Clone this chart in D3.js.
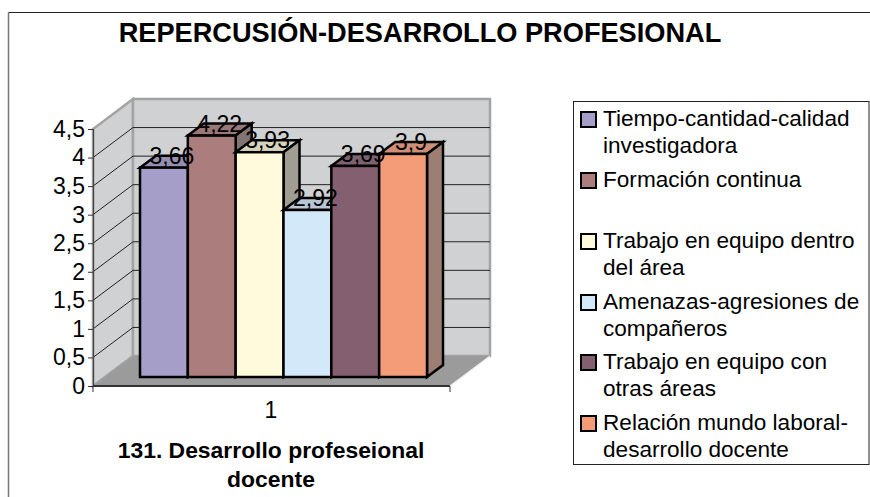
<!DOCTYPE html>
<html><head><meta charset="utf-8">
<script src="https://cdn.jsdelivr.net/npm/d3@7/dist/d3.min.js"></script>
<style>html,body{margin:0;padding:0;background:#fff}svg{display:block}text{font-family:"Liberation Sans",Arial,sans-serif;fill:#000}</style>
</head><body><svg id="c" width="870" height="497"></svg>
<script>
const chartTitle = "REPERCUSIÓN-DESARROLLO PROFESIONAL";
const legendLines = [["Tiempo-cantidad-calidad","investigadora"],["Formación continua"],["Trabajo en equipo dentro","del área"],["Amenazas-agresiones de","compañeros"],["Trabajo en equipo con","otras áreas"],["Relación mundo laboral-","desarrollo docente"]];
const legendSlotY = [119,180,241,302,362,423];
const values = [3.66,4.22,3.93,2.92,3.69,3.9];
const valueLabels = ["3,66","4,22","3,93","2,92","3,69","3,9"];
const colors = ["#a59ec9","#ab7d7d","#fffadb","#d3e9f9","#845f70","#f49b78"];
const yTicks = [0,0.5,1,1.5,2,2.5,3,3.5,4,4.5];
const category = "1";
const xTitleLines = ["131. Desarrollo profeseional","docente"];

const svg = d3.select("#c");
const fmt = d => String(d).replace(".",",");
const y = d3.scaleLinear().domain([0,4.5]).range([386,129]);
const depth = {x:40,y:-30}, bd = {x:16,y:-12};
const x = d3.scaleBand().domain(d3.range(values.length)).range([140,427]);
const line = d3.line();
const poly = (pts,fill,stroke,sw)=>svg.append("path").attr("d",line(pts)+"Z").attr("fill",fill).attr("stroke",stroke).attr("stroke-width",sw).attr("stroke-linejoin","miter");

// frame
svg.append("path").attr("d","M870,12.5H8.5").attr("fill","none").attr("stroke","#222").attr("stroke-width",1);
svg.append("path").attr("d","M8.5,12.5V497").attr("fill","none").attr("stroke","#777").attr("stroke-width",1.5);

const x0=93, x1=450, y0=y(0), yT=y(4.5);
// walls
poly([[x0,y0],[x0+depth.x,y0+depth.y],[x0+depth.x,yT+depth.y],[x0,yT]],"#d0d1d3","#a3a3a3",2.5);
poly([[x0+depth.x,y0+depth.y],[x1+depth.x,y0+depth.y],[x1+depth.x,yT+depth.y],[x0+depth.x,yT+depth.y]],"#d0d1d3","#a3a3a3",2.5);
poly([[x0,y0],[x1,y0],[x1+depth.x,y0+depth.y],[x0+depth.x,y0+depth.y]],"#9b9b9b","none",0);
// grid
yTicks.slice(1,-1).forEach(v=>{
  svg.append("path").attr("d",line([[x0,y(v)],[x0+depth.x,y(v)+depth.y],[x1+depth.x,y(v)+depth.y]]))
     .attr("fill","none").attr("stroke","#222").attr("stroke-width",1);
});
// axis
const ax = svg.append("g").attr("transform",`translate(${x0},0)`)
  .call(d3.axisLeft(y).tickValues(yTicks).tickFormat(fmt).tickSize(5).tickPadding(3));
ax.select(".domain").attr("stroke","#444").attr("stroke-width",1.2);
ax.selectAll(".tick line").attr("stroke","#333");
ax.selectAll("text").style("font-size","23px").attr("fill","#000").style("font-family","Liberation Sans");
svg.append("path").attr("d",`M${x0},${y0}H${x1}`).attr("stroke","#333").attr("stroke-width",2);
svg.append("path").attr("d",`M${x0},${y0}v6M${x1},${y0}v6`).attr("stroke","#333").attr("stroke-width",1);
svg.append("path").attr("d",`M${x1},${y0}L${x1+depth.x},${y0+depth.y}`).attr("stroke","#eee").attr("stroke-width",1.2);

// bars
const base = 377, k = 57.2;
const barH = v => (y(0)-y(v))*(k/((y(0)-y(1))));
const shade = (c,a,b)=>{const r=d3.rgb(c);return d3.rgb(r.r*a+b,r.g*a+b,r.b*a+b).formatHex();};
values.forEach((v,i)=>{
  const xa=x(i), xb=xa+x.bandwidth(), t=base-barH(v);
  poly([[xa,t],[xb,t],[xb+bd.x,t+bd.y],[xa+bd.x,t+bd.y]],shade(colors[i],0.73,29),"#000",2.5);
  poly([[xb,t],[xb+bd.x,t+bd.y],[xb+bd.x,base+bd.y],[xb,base]],shade(colors[i],0.34,73),"#000",2.5);
  svg.append("rect").attr("x",xa).attr("y",t).attr("width",x.bandwidth()).attr("height",base-t).attr("fill",colors[i]).attr("stroke","#000").attr("stroke-width",2.5);
});
// value labels
values.forEach((v,i)=>{
  svg.append("text").attr("x",x(i)+x.bandwidth()/2+8).attr("y",base-barH(v)-4)
    .attr("text-anchor","middle").style("font-size","23px").text(valueLabels[i]);
});
// x label
svg.append("text").attr("x",271).attr("y",418).attr("text-anchor","middle").style("font-size","23px").text(category);
xTitleLines.forEach((t,i)=>svg.append("text").attr("x",271).attr("y",458+i*29).attr("text-anchor","middle").style("font-size","22.9px").style("font-weight","bold").text(t));
// title
svg.append("text").attr("x",420).attr("y",42).attr("text-anchor","middle").style("font-size","27.2px").style("font-weight","bold").text(chartTitle);
// legend
svg.append("rect").attr("x",573.5).attr("y",101.5).attr("width",295.5).attr("height",363).attr("fill","#fff").attr("stroke","#222").attr("stroke-width",1);
legendLines.forEach((ls,i)=>{
  svg.append("rect").attr("x",581).attr("y",legendSlotY[i]-7).attr("width",15).attr("height",15).attr("fill",colors[i]).attr("stroke","#000").attr("stroke-width",2);
  ls.forEach((t,j)=>svg.append("text").attr("x",603).attr("y",legendSlotY[i]+7+j*26.5).style("font-size","22.6px").text(t));
});
</script></body></html>
